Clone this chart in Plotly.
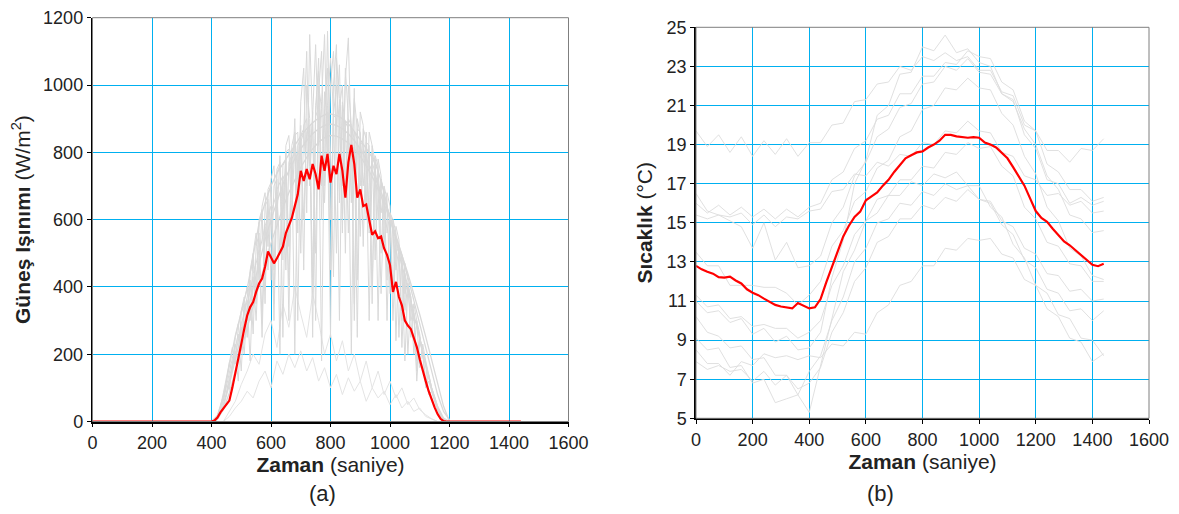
import plotly.graph_objects as go

# ---------------- DATA ----------------
# Panel (a): solar radiation (W/m2) vs time
RAD_RED_START = 400   # red series values every 10 units starting here
RAD_RED = [0, 3, 12, 27, 38, 50, 62, 100, 140, 185,
           230, 275, 315, 340, 355, 385, 410, 425, 460, 505,
           485, 470, 485, 505, 520, 560, 585, 605, 640, 675,
           745, 715, 750, 720, 765, 735, 690, 790, 745, 795,
           710, 760, 735, 795, 745, 665, 770, 822, 765, 665,
           690, 640, 645, 600, 555, 565, 545, 550, 515, 495,
           465, 385, 415, 370, 345, 300, 285, 275, 250, 222,
           185, 150, 120, 90, 65, 42, 22, 8, 1, 0]

# smooth clear-sky days (every 20 from 400)
RAD_SMOOTH = [
    [0, 18, 75, 170, 255, 325, 395, 490, 590, 650, 700, 738, 765, 790, 820, 848, 870, 888, 902, 911, 914,
     910, 900, 885, 862, 838, 812, 785, 745, 680, 600, 540, 465, 390, 320, 245, 168, 98, 45, 10, 0],
    [0, 10, 45, 110, 185, 255, 325, 400, 470, 540, 600, 655, 705, 745, 780, 810, 835, 855, 870, 880, 884,
     880, 870, 855, 835, 810, 780, 745, 705, 660, 610, 555, 495, 430, 360, 290, 215, 145, 80, 30, 5],
    [0, 8, 35, 85, 150, 215, 280, 345, 410, 470, 530, 585, 635, 680, 720, 755, 785, 810, 830, 843, 850,
     848, 840, 828, 810, 788, 760, 728, 690, 648, 600, 550, 495, 440, 380, 318, 252, 185, 118, 45, 0],
]

# partly cloudy days (every 10 from 400)
RAD_SPIKY = [
    [0, 4, 15, 40, 70, 120, 175, 150, 250, 290,
     210, 360, 400, 300, 500, 560, 420, 640, 680, 520,
     720, 760, 600, 790, 480, 820, 850, 700, 900, 560,
     950, 1050, 620, 1150, 880, 500, 980, 1100, 700, 1160,
     820, 430, 1080, 960, 560, 1050, 900, 650, 990, 420,
     920, 880, 600, 860, 820, 480, 780, 730, 520, 680,
     640, 380, 580, 540, 300, 470, 420, 250, 350, 300,
     160, 230, 180, 140, 100, 75, 45, 25, 8, 0],
    [0, 2, 10, 30, 60, 100, 140, 190, 230, 180,
     320, 350, 250, 440, 480, 350, 590, 620, 400, 680,
     700, 350, 740, 760, 600, 800, 300, 820, 860, 720,
     880, 450, 1000, 900, 380, 940, 1040, 600, 980, 880,
     250, 1000, 1120, 650, 940, 500, 1000, 880, 350, 900,
     850, 520, 860, 600, 800, 760, 300, 720, 680, 420,
     620, 600, 240, 520, 480, 330, 410, 370, 200, 300,
     260, 190, 170, 130, 95, 65, 40, 20, 6, 0],
    [0, 3, 12, 35, 65, 110, 95, 170, 220, 260,
     150, 330, 370, 420, 260, 520, 560, 300, 640, 660,
     420, 700, 720, 200, 760, 780, 520, 800, 820, 300,
     850, 870, 700, 880, 400, 920, 900, 180, 930, 1050,
     600, 910, 900, 300, 950, 880, 560, 870, 840, 250,
     830, 820, 640, 800, 400, 780, 740, 620, 690, 300,
     620, 580, 450, 520, 220, 440, 400, 300, 330, 150,
     250, 210, 120, 140, 100, 70, 40, 20, 5, 0],
    [0, 0, 5, 20, 45, 80, 120, 160, 200, 240,
     280, 200, 350, 390, 430, 300, 500, 540, 580, 450,
     620, 650, 680, 500, 720, 740, 400, 780, 800, 650,
     830, 860, 1100, 700, 890, 1120, 820, 950, 1150, 760,
     1000, 1100, 880, 1060, 700, 1020, 1140, 800, 960, 870,
     700, 870, 840, 560, 820, 770, 600, 720, 680, 560,
     620, 580, 500, 520, 480, 380, 410, 370, 300, 290,
     250, 200, 165, 130, 95, 65, 40, 20, 6, 0],
    [0, 5, 18, 45, 85, 130, 180, 220, 170, 280,
     330, 370, 300, 450, 500, 380, 600, 630, 350, 690,
     710, 450, 750, 770, 250, 800, 810, 600, 850, 860,
     500, 880, 900, 760, 920, 300, 1000, 930, 650, 940,
     1080, 920, 500, 930, 1000, 700, 900, 880, 300, 870,
     860, 700, 830, 820, 350, 790, 760, 500, 700, 660,
     380, 600, 560, 250, 490, 450, 200, 360, 320, 180,
     240, 200, 100, 120, 90, 60, 35, 15, 4, 0],
    [0, 2, 8, 25, 50, 85, 130, 170, 210, 120,
     290, 320, 360, 180, 440, 470, 510, 250, 580, 610,
     640, 300, 690, 710, 730, 450, 770, 790, 200, 820,
     840, 600, 860, 880, 250, 900, 1080, 700, 910, 920,
     450, 910, 1000, 880, 600, 890, 870, 200, 860, 840,
     550, 810, 790, 300, 770, 740, 700, 380, 680, 640,
     600, 300, 540, 500, 460, 180, 400, 360, 320, 120,
     250, 210, 170, 80, 90, 60, 35, 18, 5, 0],
]

# overcast days (every 20 from 440)
RAD_CLOUDY = [
    [0, 15, 40, 60, 90, 70, 120, 150, 100, 180, 140, 200, 160, 210, 150, 190, 120, 160, 100, 140,
     80, 130, 90, 120, 60, 100, 70, 90, 50, 80, 40, 60, 30, 40, 15, 8, 0],
    [0, 30, 60, 110, 150, 200, 170, 260, 300, 220, 350, 280, 400, 320, 250, 380, 300, 200, 260, 180,
     240, 150, 200, 120, 180, 100, 150, 80, 120, 70, 100, 50, 70, 35, 20, 8, 0],
]

# Panel (b): temperature (deg C) vs time
TEMP_RED = [12.80, 12.62, 12.50, 12.40, 12.22, 12.20, 12.25, 12.05, 11.90, 11.60,
            11.42, 11.30, 11.12, 10.95, 10.80, 10.72, 10.68, 10.62, 10.90, 10.75,
            10.62, 10.68, 11.10, 11.95, 12.75, 13.60, 14.30, 14.85, 15.30, 15.57,
            16.15, 16.35, 16.55, 16.90, 17.20, 17.60, 17.95, 18.30, 18.45, 18.60,
            18.65, 18.85, 19.00, 19.20, 19.50, 19.50, 19.42, 19.38, 19.35, 19.38,
            19.35, 19.10, 19.00, 18.85, 18.60, 18.30, 17.85, 17.35, 16.90, 16.25,
            15.60, 15.25, 15.05, 14.70, 14.35, 14.05, 13.85, 13.60, 13.40, 13.15,
            12.85, 12.78, 12.90]   # every 20 from 0

TEMP_DAYS = [   # every 40 from 0
    [11.0, 10.4, 10.5, 9.9, 10.1, 9.3, 9.6, 8.9, 9.2, 8.5, 8.6, 9.4, 12.2, 14.1, 17.0, 18.2, 20.5, 21.0, 22.6,
     22.7, 24.0, 23.8, 24.6, 23.7, 23.9, 23.2, 23.0, 21.6, 21.3, 19.5, 18.8, 17.2, 17.0, 16.0, 16.3, 15.9, 16.1],
    [19.7, 18.9, 19.5, 18.6, 19.4, 18.4, 19.2, 18.5, 19.3, 18.4, 19.1, 19.1, 20.0, 20.1, 21.2, 21.3, 22.1, 22.2, 23.0,
     22.8, 23.5, 23.3, 23.7, 23.3, 23.5, 22.8, 22.8, 21.7, 21.5, 20.0, 19.7, 18.7, 18.7, 18.1, 18.8, 18.7, 19.3],
    [16.0, 15.5, 15.9, 15.4, 15.8, 15.3, 15.7, 15.2, 15.7, 15.3, 15.8, 16.0, 17.2, 17.6, 18.8, 19.2, 20.3, 20.5, 21.6,
     21.6, 22.5, 22.5, 23.2, 23.1, 23.8, 23.5, 23.4, 22.2, 21.8, 20.2, 19.7, 18.0, 17.6, 16.7, 16.7, 16.1, 16.3],
    [15.4, 15.2, 15.4, 15.3, 15.5, 14.9, 15.4, 14.8, 15.3, 15.2, 15.6, 15.7, 16.6, 16.7, 17.5, 17.4, 18.1, 17.9, 18.5,
     18.4, 19.1, 19.0, 19.7, 19.6, 20.2, 19.7, 19.6, 18.6, 18.4, 17.4, 17.2, 16.4, 16.5, 15.9, 16.1, 15.5, 15.6],
    [16.5, 15.6, 15.4, 15.1, 14.8, 13.7, 15.0, 13.1, 14.0, 12.7, 12.8, 13.3, 15.0, 15.8, 17.4, 18.1, 19.4, 19.8, 20.9,
     21.1, 22.1, 22.2, 23.0, 22.8, 23.4, 22.7, 22.6, 21.6, 21.2, 19.8, 19.0, 17.4, 16.7, 15.4, 15.2, 14.5, 14.6],
    [11.3, 10.7, 10.8, 10.1, 10.2, 9.7, 9.8, 9.6, 9.6, 9.1, 9.4, 10.0, 11.8, 12.8, 14.4, 15.1, 16.2, 16.4, 17.2,
     17.2, 17.9, 17.8, 18.6, 18.5, 19.1, 18.8, 18.9, 17.9, 17.4, 15.8, 15.2, 14.0, 13.8, 12.9, 12.8, 12.0, 12.0],
    [10.2, 9.4, 9.2, 8.6, 8.7, 8.0, 8.1, 7.2, 7.2, 6.2, 5.3, 7.7, 10.0, 12.5, 13.6, 15.1, 15.5, 16.4, 16.4,
     17.1, 16.9, 17.5, 17.3, 17.6, 16.9, 16.9, 15.8, 15.3, 13.9, 13.2, 11.8, 11.4, 10.3, 10.1, 9.1, 9.0, 8.2],
    [9.1, 8.5, 8.6, 7.6, 7.7, 6.8, 7.0, 5.8, 6.0, 6.2, 7.4, 8.2, 10.0, 11.2, 13.0, 13.7, 15.0, 15.2, 16.0,
     15.9, 16.6, 16.4, 17.0, 16.7, 16.9, 16.2, 16.0, 14.9, 14.4, 13.1, 12.7, 11.6, 11.4, 10.5, 10.6, 10.0, 10.5],
    [8.5, 7.8, 7.8, 7.2, 7.9, 7.7, 8.3, 8.1, 8.2, 8.0, 8.2, 8.1, 8.8, 8.7, 9.4, 9.3, 10.4, 10.8, 11.8,
     12.0, 12.8, 12.8, 13.7, 13.6, 14.2, 14.1, 14.2, 13.4, 13.2, 12.1, 11.8, 10.6, 10.2, 9.1, 8.9, 7.9, 8.3],
    [7.9, 7.5, 7.7, 7.4, 7.5, 6.9, 7.4, 6.7, 7.2, 6.5, 6.8, 7.6, 9.4, 10.4, 12.0, 12.7, 14.0, 14.3, 15.2,
     15.2, 15.9, 15.7, 16.3, 16.1, 16.7, 16.2, 16.1, 15.1, 14.8, 13.7, 13.4, 12.4, 12.3, 11.5, 11.6, 11.0, 11.1],
    [13.5, 12.8, 12.8, 11.8, 11.8, 11.8, 11.7, 11.7, 11.4, 10.8, 11.3, 12.0, 13.8, 14.6, 16.1, 16.6, 17.8, 18.2, 19.4,
     19.7, 20.8, 21.0, 21.9, 21.8, 22.4, 21.9, 21.8, 20.6, 20.0, 18.4, 17.5, 15.8, 15.1, 13.7, 13.3, 12.3, 12.1],
]

X_TICKS = [0, 200, 400, 600, 800, 1000, 1200, 1400, 1600]
RAD_TICKS = [0, 200, 400, 600, 800, 1000, 1200]
TEMP_TICKS = [5, 7, 9, 11, 13, 15, 17, 19, 21, 23, 25]
DAY_END = 1440

# ---------------- FIGURE ----------------
FONT = "Arial, Liberation Sans, sans-serif"
GRAY_RAD = "#d9d9d9"
GRAY_T = "#dddddd"
RED = "#ff0000"
GRID = "#00b0f0"
TXT = "#222222"

fig = go.Figure()


def grid_x(start, step, n):
    return [start + step * i for i in range(n)]


# panel (a) gray days
for vals in RAD_CLOUDY:
    fig.add_trace(go.Scatter(x=grid_x(440, 20, len(vals)), y=vals, mode="lines",
                             line=dict(color="#e4e4e4", width=1), xaxis="x", yaxis="y",
                             showlegend=False, hoverinfo="skip"))
for vals in RAD_SPIKY:
    fig.add_trace(go.Scatter(x=grid_x(400, 10, len(vals)), y=vals, mode="lines",
                             line=dict(color=GRAY_RAD, width=1), xaxis="x", yaxis="y",
                             showlegend=False, hoverinfo="skip"))
for vals in RAD_SMOOTH:
    fig.add_trace(go.Scatter(x=grid_x(400, 20, len(vals)), y=vals, mode="lines",
                             line=dict(color=GRAY_RAD, width=1.3), xaxis="x", yaxis="y",
                             showlegend=False, hoverinfo="skip"))

# panel (a) red day (zero at night)
red_x = [0] + grid_x(RAD_RED_START, 10, len(RAD_RED)) + [DAY_END]
red_y = [0] + RAD_RED + [0]
fig.add_trace(go.Scatter(x=red_x, y=red_y, mode="lines", line=dict(color=RED, width=2.2),
                         xaxis="x", yaxis="y", showlegend=False))

# panel (b) gray days
for vals in TEMP_DAYS:
    fig.add_trace(go.Scatter(x=grid_x(0, 40, len(vals)), y=vals, mode="lines",
                             line=dict(color=GRAY_T, width=0.9), xaxis="x2", yaxis="y2",
                             showlegend=False, hoverinfo="skip"))
fig.add_trace(go.Scatter(x=grid_x(0, 20, len(TEMP_RED)), y=TEMP_RED, mode="lines",
                         line=dict(color=RED, width=2.2), xaxis="x2", yaxis="y2", showlegend=False))

# page has an 8px body margin: figure is laid out in page coords minus 8
OFF = 8
W, H = 1179 - 2 * OFF, 514 - 2 * OFF


def px_x(x):
    return (x - OFF) / W


def px_y(y):
    return (H - (y - OFF)) / H


axis_common = dict(showgrid=True, gridcolor=GRID, gridwidth=1, zeroline=False,
                   showline=True, linecolor="#000000", linewidth=1.5,
                   ticks="outside", ticklen=4, tickcolor="#000000", tickwidth=1.2,
                   tickfont=dict(family=FONT, size=18, color=TXT),
                   layer="below traces", automargin=False)

title_font = dict(family=FONT, size=21, color=TXT)

fig.update_layout(
    width=W, height=H,
    margin=dict(l=0, r=0, t=0, b=0, autoexpand=False),
    paper_bgcolor="white", plot_bgcolor="white",
    xaxis=dict(domain=[px_x(92.5), px_x(568.5)], range=[0, 1600], tickvals=X_TICKS,
               title=dict(text="<b>Zaman</b> (saniye)", font=title_font, standoff=0),
               anchor="y", **axis_common),
    yaxis=dict(domain=[px_y(421.5), px_y(17.7)], range=[0, 1200], tickvals=RAD_TICKS,
               title=dict(text="<b>Güneş Işınımı</b> (W/m<sup>2</sup>)", font=title_font, standoff=7),
               anchor="x", **axis_common),
    xaxis2=dict(domain=[px_x(696), px_x(1149)], range=[0, 1600], tickvals=X_TICKS,
                title=dict(text="<b>Zaman</b> (saniye)", font=title_font, standoff=0),
                anchor="y2", **axis_common),
    yaxis2=dict(domain=[px_y(418.3), px_y(27.3)], range=[5, 25], tickvals=TEMP_TICKS,
                title=dict(text="<b>Sıcaklık</b> (°C)", font=title_font, standoff=8),
                anchor="x2", **axis_common),
    shapes=[
        dict(type="rect", xref="x domain", yref="y domain", x0=0, x1=1, y0=0, y1=1,
             line=dict(color="#7f7f7f", width=1), layer="above"),
        dict(type="rect", xref="x2 domain", yref="y2 domain", x0=0, x1=1, y0=0, y1=1,
             line=dict(color="#7f7f7f", width=1), layer="above"),
    ],
    annotations=[
        dict(text="(a)", x=px_x(322), y=px_y(493), xref="paper", yref="paper",
             xanchor="center", yanchor="middle",
             showarrow=False, font=dict(family=FONT, size=22, color=TXT)),
        dict(text="(b)", x=px_x(880), y=px_y(493), xref="paper", yref="paper",
             xanchor="center", yanchor="middle",
             showarrow=False, font=dict(family=FONT, size=22, color=TXT)),
    ],
)

fig.write_html("out.html")
